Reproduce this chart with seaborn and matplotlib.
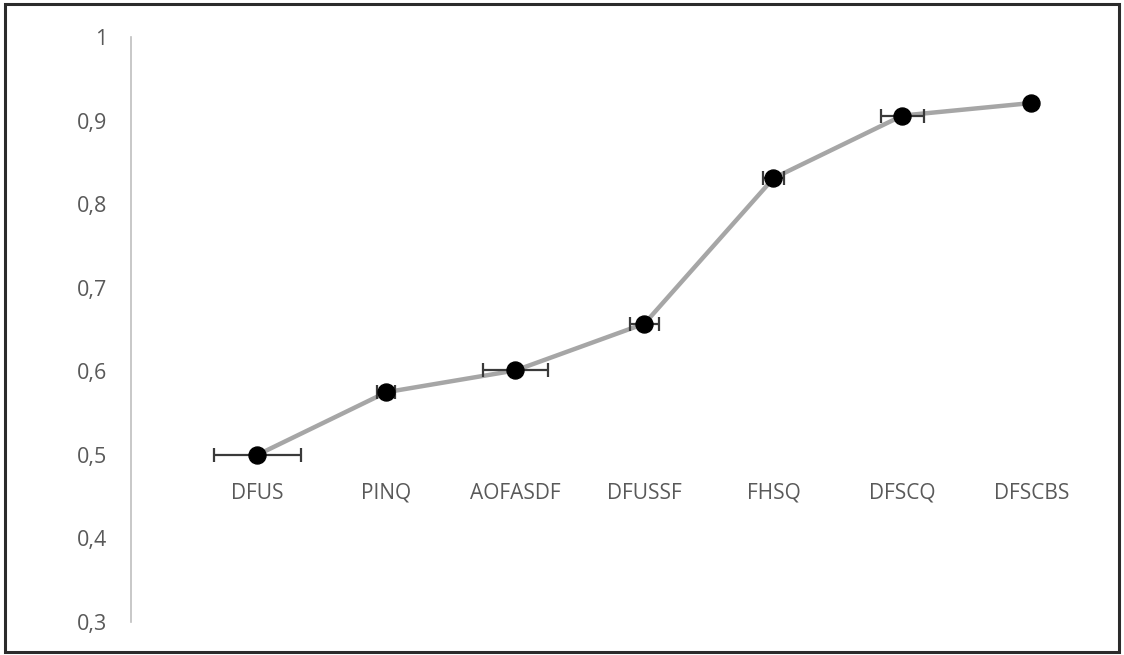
import numpy as np
import pandas as pd
import matplotlib
matplotlib.use('Agg')
import matplotlib.pyplot as plt
import seaborn as sns
from matplotlib.patches import Rectangle

categories = ['DFUS', 'PINQ', 'AOFASDF', 'DFUSSF', 'FHSQ', 'DFSCQ', 'DFSCBS']
values = [0.500, 0.575, 0.601, 0.657, 0.831, 0.906, 0.921]
x_err = [0.34, 0.07, 0.25, 0.11, 0.08, 0.17, 0.0]
y_ticks = [0.3, 0.4, 0.5, 0.6, 0.7, 0.8, 0.9, 1.0]
y_tick_labels = ['0,3', '0,4', '0,5', '0,6', '0,7', '0,8', '0,9', '1']

sns.set_style('white')
plt.rcParams['font.family'] = ['Open Sans', 'DejaVu Sans']

df = pd.DataFrame({'cat': categories, 'val': values})
pos = np.arange(len(categories))

fig = plt.figure(figsize=(11.24, 6.55), dpi=100)
ax = fig.add_axes([131 / 1124, 1 - 622 / 655, (1096 - 131) / 1124, (622 - 37) / 655])

# grey connecting line
sns.lineplot(x=pos, y=df['val'], ax=ax, color='#a6a6a6', linewidth=3.2, zorder=2)
# horizontal error bars
ax.errorbar(pos, df['val'], xerr=x_err, fmt='none', ecolor='#3a3a3a',
            elinewidth=1.6, capsize=5, capthick=1.6, zorder=3)
# markers
sns.scatterplot(x=pos, y=df['val'], ax=ax, color='black', s=150,
                edgecolor='black', zorder=4, legend=False)

ax.set_xlim(-0.98, 6.5)
ax.set_ylim(0.3, 1.0)
ax.set_yticks(y_ticks)
ax.set_yticklabels(y_tick_labels)
ax.set_xticks(pos)
ax.set_xticklabels(categories)
ax.set_xlabel('')
ax.set_ylabel('')

for s in ['top', 'right']:
    ax.spines[s].set_visible(False)
ax.spines['left'].set_color('#bfbfbf')
ax.spines['left'].set_linewidth(1.2)
ax.spines['bottom'].set_position(('data', 0.5))
ax.spines['bottom'].set_visible(False)

ax.tick_params(axis='y', length=0, pad=17, labelsize=15.5, labelcolor='#595959')
ax.tick_params(axis='x', length=0, pad=20, labelsize=15, labelcolor='#595959')

# outer frame around the chart
fig.patches.append(Rectangle((5 / 1124, 3 / 655), 1114 / 1124, 648 / 655,
                             transform=fig.transFigure, fill=False,
                             edgecolor='#2b2b2b', linewidth=2.2))

fig.savefig('out.png', dpi=100)
